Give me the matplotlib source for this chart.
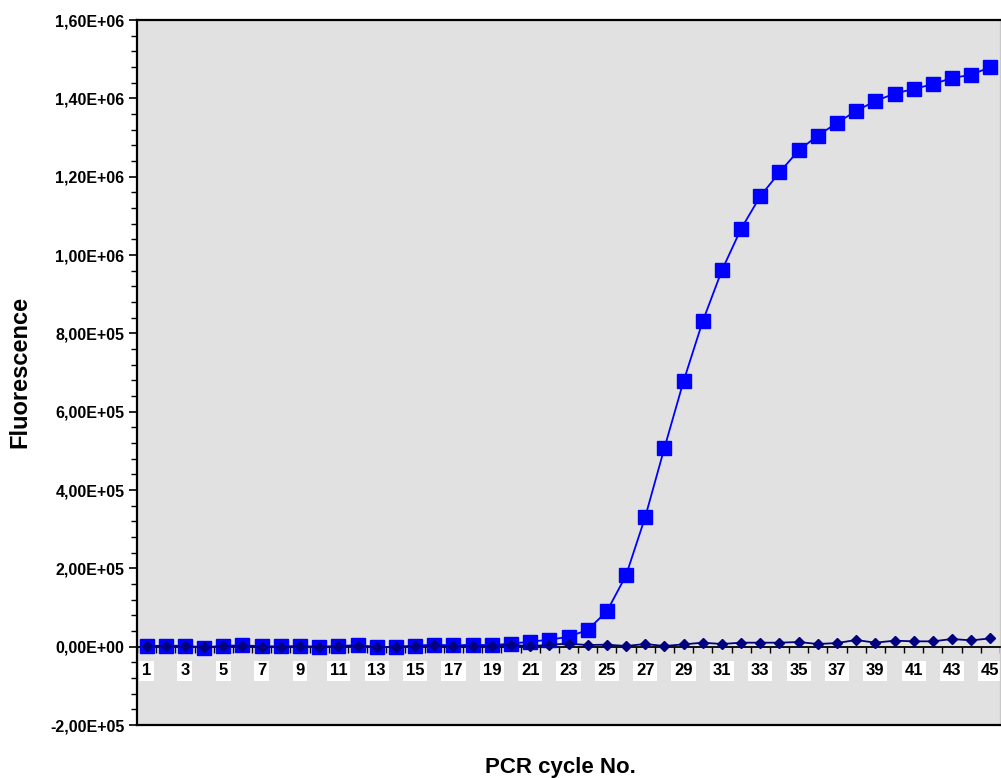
import numpy as np
import matplotlib
matplotlib.use("Agg")
import matplotlib.pyplot as plt
from matplotlib.ticker import FuncFormatter, MultipleLocator

plt.rcParams['font.family'] = ['Liberation Sans', 'DejaVu Sans']
plt.rcParams['font.weight'] = 'bold'

# PCR cycles
cycles = np.arange(1, 46)

# sample curve (blue squares)
sample = [1500, 2500, 2000, -3000, 2500, 3000, 1500, 500, 1500, -1000,
          2000, 3500, -500, -1500, 2500, 5000, 3000, 5000, 3500, 8000,
          12500, 18000, 25000, 43000, 90000, 182000, 331000, 507000, 678000, 831000,
          961000, 1067000, 1150000, 1211000, 1267000, 1305000, 1337000, 1368000, 1393000, 1412000,
          1424000, 1436000, 1452000, 1460000, 1480000]

# negative control (navy diamonds)
control = [2000, 1000, 1500, -1000, 1000, 2000, -500, -1000, 1000, -500,
           500, 2500, -1500, 0, 1500, 3000, 1000, 2500, 1500, 5100,
           850, 5100, 7600, 4200, 5100, 1700, 6800, 1700, 5900, 10200,
           6800, 10200, 10200, 10200, 11900, 6800, 9300, 17000, 10200, 15300,
           13600, 13600, 19500, 16100, 21200]

W, H = 1001, 778
fig = plt.figure(figsize=(W / 100, H / 100), dpi=100)
ax = fig.add_axes([137 / W, 1 - 725 / H, (1000 - 137) / W, (725 - 20) / H])
ax.set_facecolor('#e1e1e1')

ax.plot(cycles, sample, color='#0000ff', lw=1.3, marker='s', ms=9.5,
        mfc='#0000ff', mec='#0000ff', zorder=3)
ax.plot(cycles, control, color='#000080', lw=1.3, marker='D', ms=5.5,
        mfc='#000080', mec='#000080', zorder=4)

ax.set_xlim(0.5, 45.5)
ax.set_ylim(-2e5, 1.6e6)

# y axis
ax.yaxis.set_major_locator(MultipleLocator(2e5))
ax.yaxis.set_minor_locator(MultipleLocator(4e4))
ax.yaxis.set_major_formatter(FuncFormatter(lambda v, p: f"{v:.2E}".replace('.', ',')))
ax.tick_params(axis='y', which='major', length=6, width=1.2, labelsize=11.5, pad=3)
ax.tick_params(axis='y', which='minor', length=4, width=1.0)

# x axis crossing at zero
ax.spines['bottom'].set_position(('data', 0))
ax.spines['bottom'].set_linewidth(1.3)
ax.set_xticks(cycles[::2])
ax.set_xticks(np.arange(0.5, 46, 1), minor=True)
ax.tick_params(axis='x', which='major', length=0, labelsize=12, pad=12)
ax.tick_params(axis='x', which='minor', length=4, width=1.0, direction='out')
for lab in ax.get_xticklabels():
    lab.set_bbox(dict(facecolor='white', edgecolor='none', pad=2))

# frame
ax.spines['left'].set_linewidth(1.6)
ax.spines['top'].set_linewidth(1.6)
ax.spines['right'].set_color('#c8c8c8')
ax.spines['right'].set_linewidth(1.0)
ax.plot([0, 1], [0, 0], transform=ax.transAxes, color='black', lw=1.6,
        clip_on=False, zorder=5)

fig.text(560 / W, 1 - 767 / H, 'PCR cycle No.', ha='center', va='center',
         fontsize=16, fontweight='bold')
fig.text(20 / W, 1 - 372 / H, 'Fluorescence', ha='center', va='center',
         rotation=90, fontsize=17, fontweight='bold')

fig.savefig('out.png', dpi=100)
